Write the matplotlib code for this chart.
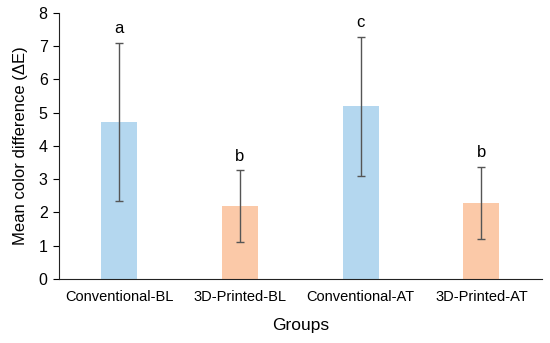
import numpy as np
import matplotlib
matplotlib.use("Agg")
import matplotlib.pyplot as plt

plt.rcParams['font.family'] = ['Liberation Sans', 'DejaVu Sans']

# Data
groups = ["Conventional-BL", "3D-Printed-BL", "Conventional-AT", "3D-Printed-AT"]
means = [4.73, 2.19, 5.20, 2.29]
errors = [2.38, 1.08, 2.09, 1.09]
letters = ["a", "b", "c", "b"]
colors = ["#b4d7ef", "#fbc9a8", "#b4d7ef", "#fbc9a8"]

fig = plt.figure(figsize=(5.5, 3.43), dpi=100)
ax = fig.add_axes([0.107, 0.187, 0.878, 0.775])

x = np.arange(len(groups))
ax.bar(x, means, width=0.30, color=colors, zorder=1)
ax.errorbar(x, means, yerr=errors, fmt="none", ecolor="#555555",
            elinewidth=1.0, capsize=3, capthick=1.0, zorder=2)

for xi, m, e, lab in zip(x, means, errors, letters):
    ax.text(xi, m + e + 0.2, lab, ha="center", va="bottom", fontsize=12)

ax.set_xlim(-0.5, 3.5)
ax.set_ylim(0, 8)
ax.set_yticks(range(0, 9))
ax.set_xticks(x)
ax.set_xticklabels(groups, fontsize=10.5)
ax.tick_params(axis="y", labelsize=11.5, length=4, direction="out", pad=4)
ax.tick_params(axis="x", length=0, pad=8)
for s in ["left", "bottom"]:
    ax.spines[s].set_color("#222222")
ax.spines["top"].set_visible(False)
ax.spines["right"].set_visible(False)
ax.set_ylabel("Mean color difference (ΔE)", fontsize=12, labelpad=8)
ax.set_xlabel("Groups", fontsize=12.5, labelpad=10)

fig.savefig("out.png", dpi=100)
